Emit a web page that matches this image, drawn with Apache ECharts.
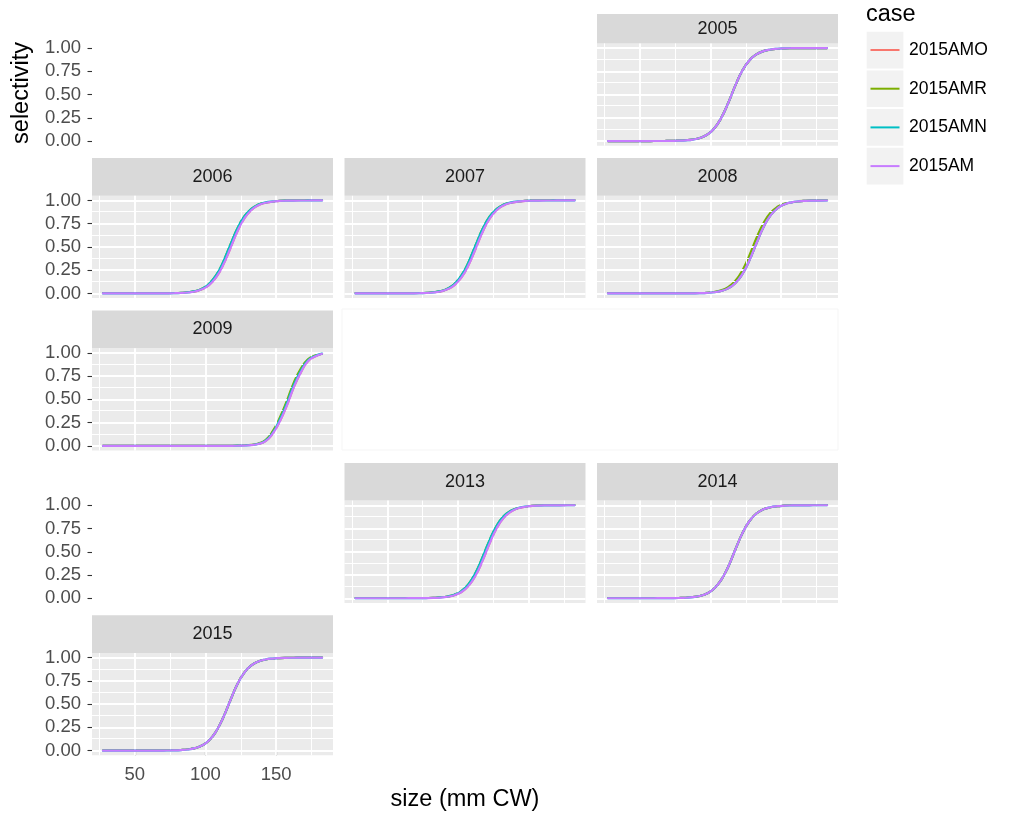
<!DOCTYPE html>
<html><head><meta charset="utf-8">
<script src="https://cdn.jsdelivr.net/npm/echarts@6/dist/echarts.min.js"></script>
<style>html,body{margin:0;padding:0;background:#fff}#c{width:1014px;height:814px}</style>
</head><body><div id="c"></div>
<script>
// ---------- data ----------
const sizes = [27.5,32.5,37.5,42.5,47.5,52.5,57.5,62.5,67.5,72.5,77.5,82.5,87.5,92.5,97.5,102.5,107.5,112.5,117.5,122.5,127.5,132.5,137.5,142.5,147.5,152.5,157.5,162.5,167.5,172.5,177.5,182.5];
const cases = ['2015AMO','2015AMR','2015AMN','2015AM'];
const years = ['2005','2006','2007','2008','2009','2013','2014','2015'];
const yTicks = [0, 0.25, 0.5, 0.75, 1];
const yMinor = [0.125, 0.375, 0.625, 0.875];
const xTicks = [50, 100, 150];
const xMinor = [25, 75, 125, 175];

const sel2005_AM = [0,0,0,0,0,0.0001,0.0002,0.0004,0.0008,0.0017,0.0036,0.0076,0.0159,0.0331,0.0676,0.133,0.245,0.407,0.593,0.755,0.867,0.932,0.967,0.984,0.9924,0.9964,0.9983,0.9992,0.9996,0.9998,0.9999,1.0];
const sel2006_AM = [0,0,0,0,0,0,0.0001,0.0002,0.0005,0.0011,0.0023,0.0049,0.0102,0.0214,0.0442,0.089,0.172,0.305,0.481,0.663,0.806,0.898,0.949,0.975,0.988,0.9944,0.9973,0.9987,0.9994,0.9997,0.9999,1.0];
const sel2006_AMN = [0,0,0,0,0,0.0001,0.0001,0.0003,0.0006,0.0013,0.0027,0.0056,0.0118,0.0247,0.0509,0.102,0.194,0.337,0.519,0.695,0.828,0.911,0.956,0.979,0.990,0.9951,0.9977,0.9989,0.9995,0.9998,0.9999,1.0];
const sel2007_AM = [0,0,0,0,0,0.0001,0.0002,0.0005,0.0011,0.0023,0.0049,0.0102,0.0214,0.0442,0.089,0.172,0.305,0.481,0.663,0.806,0.898,0.949,0.975,0.988,0.9944,0.9973,0.9987,0.9994,0.9997,0.9999,1.0,1.0];
const sel2007_AMN = [0,0,0,0,0.0001,0.0001,0.0003,0.0006,0.0013,0.0027,0.0056,0.0118,0.0247,0.0509,0.102,0.194,0.337,0.519,0.695,0.828,0.911,0.956,0.979,0.990,0.9951,0.9977,0.9989,0.9995,0.9998,0.9999,1.0,1.0];
const sel2008_AM = [0,0,0,0,0,0,0,0,0.0001,0.0001,0.0003,0.0006,0.0014,0.0029,0.0061,0.0127,0.0266,0.0547,0.109,0.206,0.354,0.537,0.711,0.839,0.917,0.959,0.980,0.9905,0.9955,0.998,0.999,0.9995];
const sel2008_AMR = [0,0,0,0,0,0,0,0,0.0001,0.0002,0.0004,0.0008,0.0017,0.0036,0.0076,0.0159,0.0331,0.0676,0.133,0.245,0.407,0.593,0.755,0.867,0.932,0.967,0.984,0.9924,0.9964,0.9983,0.9992,0.9996];
const sel2009_AM = [0,0,0,0,0,0,0,0,0,0,0,0,0,0,0,0.0001,0.0001,0.0003,0.0006,0.0013,0.003,0.008,0.02,0.05,0.13,0.26,0.43,0.63,0.79,0.91,0.96,0.99];
const sel2009_AMR = [0,0,0,0,0,0,0,0,0,0,0,0,0,0,0,0.0001,0.0001,0.0003,0.0007,0.0016,0.004,0.010,0.025,0.062,0.155,0.30,0.48,0.68,0.83,0.93,0.97,0.993];
const sel2009_AMN = [0,0,0,0,0,0,0,0,0,0,0,0,0,0,0,0.0001,0.0001,0.0003,0.0006,0.0014,0.0035,0.009,0.022,0.056,0.14,0.28,0.455,0.655,0.81,0.92,0.965,0.991];
const sel2013_AM = [0,0,0,0,0,0,0.0001,0.0002,0.0004,0.0008,0.0017,0.0036,0.0076,0.0159,0.0331,0.0676,0.133,0.245,0.407,0.593,0.755,0.867,0.932,0.967,0.984,0.9924,0.9964,0.9983,0.9992,0.9996,0.9998,0.9999];
const sel2013_AMN = [0,0,0,0,0,0,0.0001,0.0002,0.0004,0.0009,0.0020,0.0042,0.0088,0.0184,0.0382,0.0776,0.151,0.274,0.444,0.628,0.782,0.883,0.941,0.971,0.9863,0.9935,0.9969,0.9985,0.9993,0.9997,0.9998,0.9999];
const sel2014_AM = [0,0,0,0,0,0.0001,0.0001,0.0003,0.0006,0.0013,0.0027,0.0056,0.0118,0.0247,0.0509,0.102,0.194,0.337,0.519,0.695,0.828,0.911,0.956,0.979,0.990,0.9951,0.9977,0.9989,0.9995,0.9998,0.9999,1.0];
const sel2015_AM = [0,0,0,0,0,0.0001,0.0001,0.0003,0.0006,0.0014,0.0029,0.0061,0.0127,0.0266,0.0547,0.109,0.206,0.354,0.537,0.711,0.839,0.917,0.959,0.980,0.9905,0.9955,0.998,0.999,0.9995,0.9998,0.9999,1.0];

// per year: [AMO, AMR, AMN, AM]
const selByYear = {
  '2005': [sel2005_AM, sel2005_AM, sel2005_AM, sel2005_AM],
  '2006': [sel2006_AM, sel2006_AMN, sel2006_AMN, sel2006_AM],
  '2007': [sel2007_AM, sel2007_AMN, sel2007_AMN, sel2007_AM],
  '2008': [sel2008_AM, sel2008_AMR, sel2008_AM, sel2008_AM],
  '2009': [sel2009_AM, sel2009_AMR, sel2009_AMN, sel2009_AM],
  '2013': [sel2013_AM, sel2013_AMN, sel2013_AMN, sel2013_AM],
  '2014': [sel2014_AM, sel2014_AM, sel2014_AM, sel2014_AM],
  '2015': [sel2015_AM, sel2015_AM, sel2015_AM, sel2015_AM]
};

// ---------- layout / style ----------
const colors = ['#F8766D', '#7CAE00', '#00BFC4', '#C77CFF'];
const FONT = '"Liberation Sans", Arial, Helvetica, sans-serif';
const colLeft = [92, 344.5, 597];
const panelW = 241, panelH = 102.3, stripH = 37.7;
const rowTop = r => 43.4 + 152.4 * r;
const pos = {'2005':[0,2],'2006':[1,0],'2007':[1,1],'2008':[1,2],'2009':[2,0],'2013':[3,1],'2014':[3,2],'2015':[4,0]};

const grid = [], xAxis = [], yAxis = [], series = [], graphic = [];

function addGrid(r, c, showBg, yLabels, xLabels) {
  const gi = grid.length;
  grid.push({left: colLeft[c], top: rowTop(r), width: panelW, height: panelH,
    show: showBg, backgroundColor: '#EBEBEB', borderWidth: 0});
  xAxis.push({gridIndex: gi, type: 'value', min: 19.75, max: 190.25,
    axisLine: {show: false}, splitLine: {show: false},
    axisTick: {show: xLabels, customValues: xTicks, length: 4.5, lineStyle: {color: '#333333', width: 1.1}},
    axisLabel: {show: xLabels, customValues: xTicks, margin: 10, fontSize: 18.5, color: '#4D4D4D', fontFamily: FONT}});
  yAxis.push({gridIndex: gi, type: 'value', min: -0.05, max: 1.05,
    axisLine: {show: false}, splitLine: {show: false},
    axisTick: {show: yLabels, customValues: yTicks, length: 4.5, lineStyle: {color: '#333333', width: 1.1}},
    axisLabel: {show: yLabels, customValues: yTicks, margin: 11, fontSize: 18.5, color: '#4D4D4D', fontFamily: FONT,
      formatter: v => v.toFixed(2)}});
  return gi;
}

years.forEach(y => {
  const [r, c] = pos[y];
  const gi = addGrid(r, c, true, c === 0, y === '2015');
  // gridlines
  const ml = [];
  yMinor.forEach(v => ml.push({yAxis: v, lineStyle: {width: 1, color: '#ffffff', type: 'solid'}}));
  xMinor.forEach(v => ml.push({xAxis: v, lineStyle: {width: 1, color: '#ffffff', type: 'solid'}}));
  yTicks.forEach(v => ml.push({yAxis: v, lineStyle: {width: 1.9, color: '#ffffff', type: 'solid'}}));
  xTicks.forEach(v => ml.push({xAxis: v, lineStyle: {width: 1.9, color: '#ffffff', type: 'solid'}}));
  series.push({type: 'line', xAxisIndex: gi, yAxisIndex: gi, data: [], silent: true, z: 1,
    markLine: {silent: true, symbol: ['none', 'none'], label: {show: false}, animation: false, data: ml}});
  // curves
  cases.forEach((cs, ci) => {
    const vals = selByYear[y][ci];
    series.push({type: 'line', name: cs, xAxisIndex: gi, yAxisIndex: gi,
      data: sizes.map((s, k) => [s, vals[k]]),
      symbol: 'none', showSymbol: false, smooth: 0.5,
      lineStyle: {width: 2.2, color: colors[ci], join: 'round', cap: 'round'}, itemStyle: {color: colors[ci]},
      z: 3 + ci, silent: true, animation: false});
  });
  // strip
  const st = r === 0 ? 14 : rowTop(r) - stripH;
  const sh = rowTop(r) - st;
  graphic.push({type: 'rect', shape: {x: colLeft[c], y: st, width: panelW, height: sh}, style: {fill: '#D9D9D9'}, silent: true});
  graphic.push({type: 'text', x: colLeft[c] + panelW / 2, y: st + sh / 2,
    style: {text: y, fill: '#1A1A1A', font: '18px ' + FONT, align: 'center', verticalAlign: 'middle'}, silent: true});
});
// y axes for rows whose first column panel is empty
addGrid(0, 0, false, true, false);
addGrid(3, 0, false, true, false);

// faint empty panel outline
graphic.push({type: 'rect', shape: {x: 342, y: 309, width: 496, height: 141}, style: {fill: 'none', stroke: '#f5f5f5', lineWidth: 1}, silent: true});

// titles
graphic.push({type: 'text', x: 22, y: 93, rotation: Math.PI / 2,
  style: {text: 'selectivity', fill: '#000', font: '23.5px ' + FONT, align: 'center', verticalAlign: 'middle'}, silent: true});
graphic.push({type: 'text', x: 465, y: 800,
  style: {text: 'size (mm CW)', fill: '#000', font: '23.5px ' + FONT, align: 'center', verticalAlign: 'middle'}, silent: true});
graphic.push({type: 'text', x: 866, y: 15,
  style: {text: 'case', fill: '#000', font: '23.5px ' + FONT, align: 'left', verticalAlign: 'middle'}, silent: true});
// legend (keys drawn as in ggplot)
cases.forEach((cs, i) => {
  const cy = 50 + 38.7 * i;
  graphic.push({type: 'rect', shape: {x: 866.7, y: cy - 18.3, width: 36.7, height: 36.7}, style: {fill: '#F2F2F2'}, silent: true});
  graphic.push({type: 'line', shape: {x1: 870.5, y1: cy, x2: 899.5, y2: cy}, style: {stroke: colors[i], lineWidth: 2}, silent: true});
  graphic.push({type: 'text', x: 909, y: cy,
    style: {text: cs, fill: '#000', font: '17.5px ' + FONT, align: 'left', verticalAlign: 'middle'}, silent: true});
});

const chart = echarts.init(document.getElementById('c'), null, {renderer: 'canvas'});
chart.setOption({
  animation: false,
  backgroundColor: '#ffffff',
  grid, xAxis, yAxis, series, graphic
});
</script>
</body></html>
